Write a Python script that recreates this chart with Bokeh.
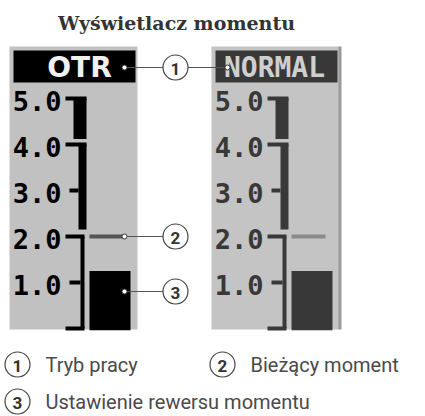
from bokeh.plotting import figure
from bokeh.models import Range1d
from bokeh.core.properties import value
from bokeh.embed import file_html
from bokeh.resources import INLINE

# ---- data ----
title = "Wyświetlacz momentu"
modes = ["OTR", "NORMAL"]
scale_labels = ["5.0", "4.0", "3.0", "2.0", "1.0"]
scale_values = [5.0, 4.0, 3.0, 2.0, 1.0]
major_ticks = [5.0, 4.0, 2.0, 0.0]
minor_ticks = [3.0, 1.0]
zone_top = [5.0, 4.0, 2.0]
zone_bottom = [4.12, 2.15, 0.0]
current_torque = 2.0
reverse_torque_setting = 1.25
callout_numbers = ["1", "2", "3"]
legend_labels = ["Tryb pracy", "Bieżący moment", "Ustawienie rewersu momentu"]

# ---- layout / style ----
W, H = 425, 416
PX_PER_UNIT = 46.0
ZERO_Y = 328.0  # image-pixel row of torque 0

p = figure(width=W, height=H, x_range=Range1d(0, W), y_range=Range1d(H, 0),
           output_backend="svg", toolbar_location=None, min_border=0,
           x_axis_location=None, y_axis_location=None)
p.grid.visible = False
p.outline_line_color = None
p.background_fill_color = "white"
p.border_fill_color = "white"
p.extra_y_ranges = {"torque": Range1d(start=(ZERO_Y - H) / PX_PER_UNIT,
                                      end=ZERO_Y / PX_PER_UNIT)}
T = "torque"

panels = [
    dict(off=0, bg="#c1c1c1", ink="#000000", head_text="#f0f0f0", cur="#555555",
         font="DejaVu Sans", hx=79),
    dict(off=202, bg="#c4c4c4", ink="#383838", head_text="#cfcfcf", cur="#8a8a8a",
         font="DejaVu Sans Mono", hx=274),
]

# title
p.text(x=[176], y=[22], text=[title], text_align="center", text_baseline="middle",
       text_font=value("DejaVu Serif"), text_font_style="bold", text_font_size="19px",
       text_color="#333333")

zone_lr = [(73, 86), (78, 86), (80, 84)]
major_x = {5.0: (65, 86), 4.0: (65, 86), 2.0: (65, 84), 0.0: (65, 84)}
minor_x = {3.0: (69, 78), 1.0: (69, 80)}

for i, pn in enumerate(panels):
    o = pn["off"]
    ink = pn["ink"]
    # panel background
    p.quad(left=[9 + o], right=[137 + o], top=[46], bottom=[329],
           fill_color=pn["bg"], line_color=None)
    if i == 1:
        p.quad(left=[338], right=[341], top=[46], bottom=[329],
               fill_color="#9a9a9a", line_color=None)
    # mode header
    p.quad(left=[13 + o], right=[135 + o], top=[50], bottom=[82],
           fill_color=ink, line_color=None)
    p.text(x=[pn["hx"]], y=[67], text=[modes[i]],
           text_align="center", text_baseline="middle",
           text_font=value(pn["font"]), text_font_style="bold",
           text_font_size="28px", text_color=pn["head_text"])
    # scale labels
    p.text(x=[61 + o] * len(scale_values), y=scale_values, text=scale_labels,
           y_range_name=T, y_offset=2, text_align="right", text_baseline="middle",
           text_font=value("DejaVu Sans Mono"), text_font_style="bold",
           text_font_size="27px", text_color=ink)
    # zone bars
    p.quad(left=[a + o for a, b in zone_lr], right=[b + o for a, b in zone_lr],
           top=zone_top, bottom=zone_bottom, y_range_name=T,
           fill_color=ink, line_color=None)
    # ticks
    for t in major_ticks:
        x0, x1 = major_x[t]
        p.segment(x0=[x0 + o], x1=[x1 + o], y0=[t], y1=[t], y_range_name=T,
                  line_color=ink, line_width=4, line_cap="butt")
    for t in minor_ticks:
        x0, x1 = minor_x[t]
        p.segment(x0=[x0 + o], x1=[x1 + o], y0=[t], y1=[t], y_range_name=T,
                  line_color=ink, line_width=4, line_cap="butt")
    # current torque
    p.segment(x0=[89 + o], x1=[123 + o], y0=[current_torque], y1=[current_torque],
              y_range_name=T, line_color=pn["cur"], line_width=4, line_cap="butt")
    # reverse torque setting block
    p.quad(left=[89 + o], right=[130 + o], top=[reverse_torque_setting], bottom=[-0.04],
           y_range_name=T, fill_color=ink, line_color=None)

# callouts
LINE = "#555555"
p.segment(x0=[124], x1=[227], y0=[67], y1=[67], line_color=LINE, line_width=1.2)
p.segment(x0=[124], x1=[163], y0=[current_torque], y1=[current_torque],
          y_range_name=T, line_color=LINE, line_width=1.2)
p.segment(x0=[124], x1=[163], y0=[291], y1=[291], line_color=LINE, line_width=1.2)
p.scatter(x=[124, 227, 124], y=[67, 67, 291], marker="circle", size=5,
          fill_color="white", line_color="#333333", line_width=1)
p.scatter(x=[124], y=[current_torque], y_range_name=T, marker="circle", size=5,
          fill_color="white", line_color="#333333", line_width=1)

# callout circles
p.scatter(x=[175, 175], y=[67, 291], marker="circle", size=25,
          fill_color="white", line_color="#444444", line_width=1.2)
p.scatter(x=[175], y=[current_torque], y_range_name=T, marker="circle", size=25,
          fill_color="white", line_color="#444444", line_width=1.2)
p.text(x=[175, 175], y=[67, 291], text=[callout_numbers[0], callout_numbers[2]],
       text_align="center", text_baseline="middle", y_offset=1,
       text_font=value("Roboto"), text_font_style="bold", text_font_size="17px",
       text_color="#333333")
p.text(x=[175], y=[current_torque], y_range_name=T, text=[callout_numbers[1]],
       text_align="center", text_baseline="middle", y_offset=1,
       text_font=value("Roboto"), text_font_style="bold", text_font_size="17px",
       text_color="#333333")

# legend
lx = [17, 222, 17]
ly = [364, 364, 401]
tx = [45, 250, 45]
p.scatter(x=lx, y=ly, marker="circle", size=25, fill_color="white",
          line_color="#444444", line_width=1.2)
p.text(x=lx, y=ly, text=callout_numbers, text_align="center", text_baseline="middle",
       y_offset=1, text_font=value("Roboto"), text_font_style="bold",
       text_font_size="17px", text_color="#333333")
p.text(x=tx, y=ly, text=legend_labels, text_align="left", text_baseline="middle",
       text_font=value("Roboto"), text_font_size="20px", text_color="#4a4a4a")

open("out.html", "w").write(file_html(p, INLINE))
